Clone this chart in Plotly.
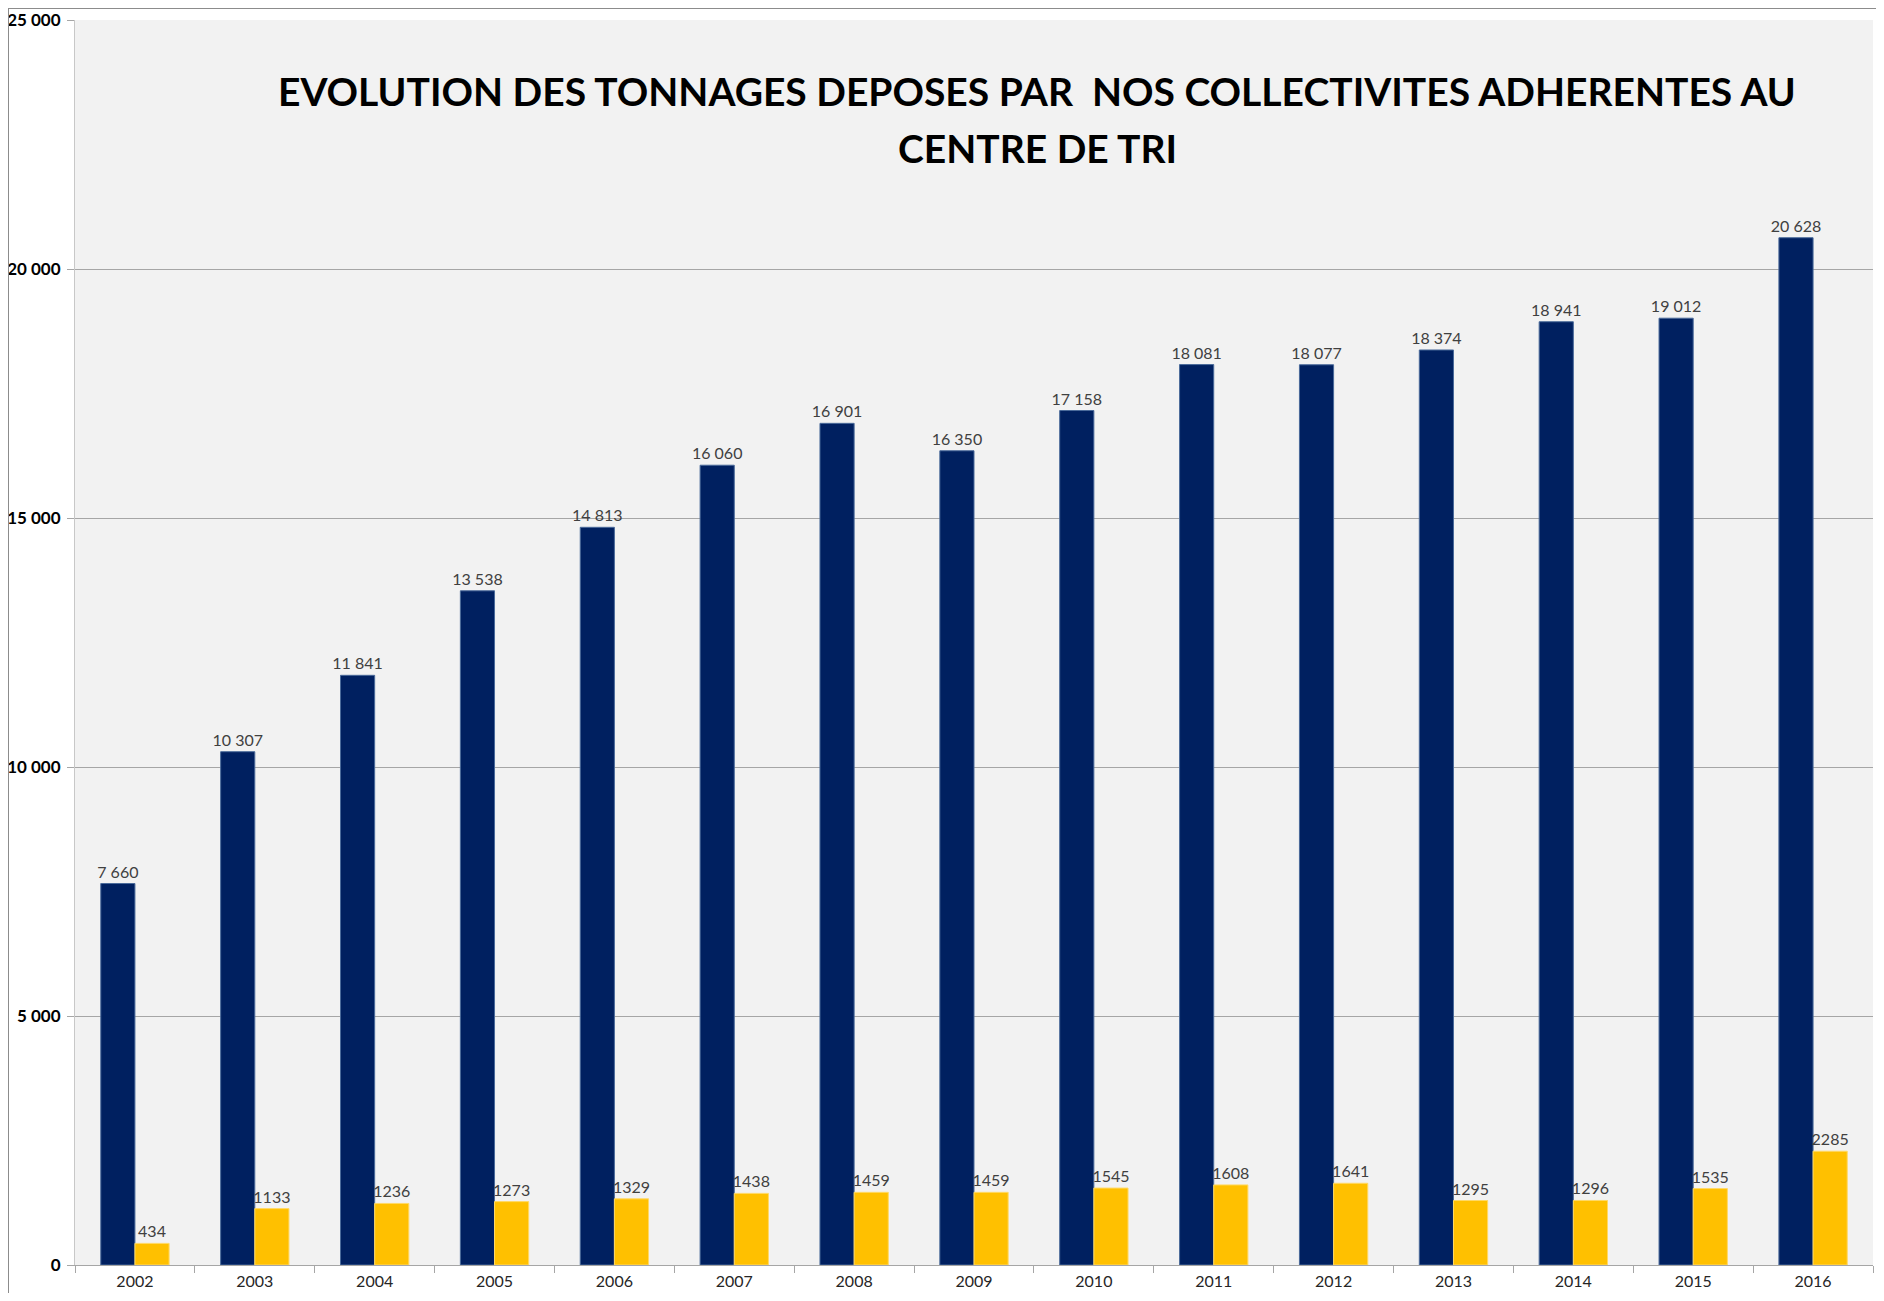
import plotly.graph_objects as go

years = ["2002", "2003", "2004", "2005", "2006", "2007", "2008", "2009",
         "2010", "2011", "2012", "2013", "2014", "2015", "2016"]
tonnages_navy = [7660, 10307, 11841, 13538, 14813, 16060, 16901, 16350,
                 17158, 18081, 18077, 18374, 18941, 19012, 20628]
tonnages_jaune = [434, 1133, 1236, 1273, 1329, 1438, 1459, 1459,
                  1545, 1608, 1641, 1295, 1296, 1535, 2285]
y_ticks = [0, 5000, 10000, 15000, 20000, 25000]

# la page garde 8 px de marge autour de la figure
W, H = 1868, 1285
L, R, T, B = 67, 3, 12, 28
pw, ph = W - L - R, H - T - B

NAVY = "#002060"
GOLD = "#FFC000"
FONT = "Lato, 'Open Sans', sans-serif"

fig = go.Figure()
fig.add_trace(
    go.Bar(
        x=years,
        y=tonnages_navy,
        marker=dict(color=NAVY, line=dict(color="#4A6A9A", width=1)),
        text=[f"{v:,}".replace(",", " ") for v in tonnages_navy],
        textposition="outside",
        constraintext="none",
        textfont=dict(size=16, color="#404040"),
        cliponaxis=False,
    )
)
fig.add_trace(
    go.Bar(
        x=years,
        y=tonnages_jaune,
        marker=dict(color=GOLD, line=dict(color="#FFD966", width=1)),
        text=[str(v) for v in tonnages_jaune],
        textposition="outside",
        constraintext="none",
        textfont=dict(size=16, color="#404040"),
        cliponaxis=False,
    )
)

# titre sur deux lignes
title_x = (1029 - L) / pw
for txt, ypx in [("EVOLUTION DES TONNAGES DEPOSES PAR  NOS COLLECTIVITES ADHERENTES AU", 83),
                 ("CENTRE DE TRI", 140)]:
    fig.add_annotation(
        text=f"<b>{txt}</b>",
        x=title_x, y=(H - B - ypx) / ph, xref="paper", yref="paper",
        xanchor="center", yanchor="middle",
        showarrow=False, font=dict(size=39, color="black", family=FONT),
    )

# cadre extérieur (haut et gauche)
top = 1 + T / ph
fig.add_shape(type="line", xref="paper", yref="paper",
              x0=-L / pw, x1=(W - L) / pw, y0=top, y1=top,
              line=dict(color="#8C8C8C", width=2))
fig.add_shape(type="line", xref="paper", yref="paper",
              x0=-L / pw, x1=-L / pw, y0=top, y1=-B / ph,
              line=dict(color="#8C8C8C", width=2))

fig.update_layout(
    width=W,
    height=H,
    margin=dict(l=L, r=R, t=T, b=B, pad=0, autoexpand=False),
    paper_bgcolor="white",
    plot_bgcolor="#F2F2F2",
    barmode="group",
    bargap=0.43,
    bargroupgap=0,
    showlegend=False,
    font=dict(family=FONT, color="#262626", size=16),
)
fig.update_xaxes(
    type="category",
    automargin=False,
    tickson="boundaries",
    ticks="outside",
    ticklen=7,
    tickcolor="#A6A6A6",
    showline=True,
    linecolor="#A6A6A6",
    linewidth=1,
    showgrid=False,
    tickfont=dict(size=16, color="#262626"),
    ticklabelstandoff=2,
)
fig.update_yaxes(
    automargin=False,
    range=[0, 25000],
    tickvals=y_ticks,
    ticktext=[f"{v:,}".replace(",", " ") for v in y_ticks],
    ticks="outside",
    ticklen=7,
    tickcolor="#A6A6A6",
    showline=True,
    linecolor="#C8C8C8",
    linewidth=1,
    gridcolor="#A6A6A6",
    gridwidth=1,
    zeroline=False,
    tickfont=dict(size=17, color="black", family=FONT, weight="bold"),
    ticklabelstandoff=3,
    ticklabeloverflow="allow",
)

fig.write_html("out.html", config={"displayModeBar": False})
